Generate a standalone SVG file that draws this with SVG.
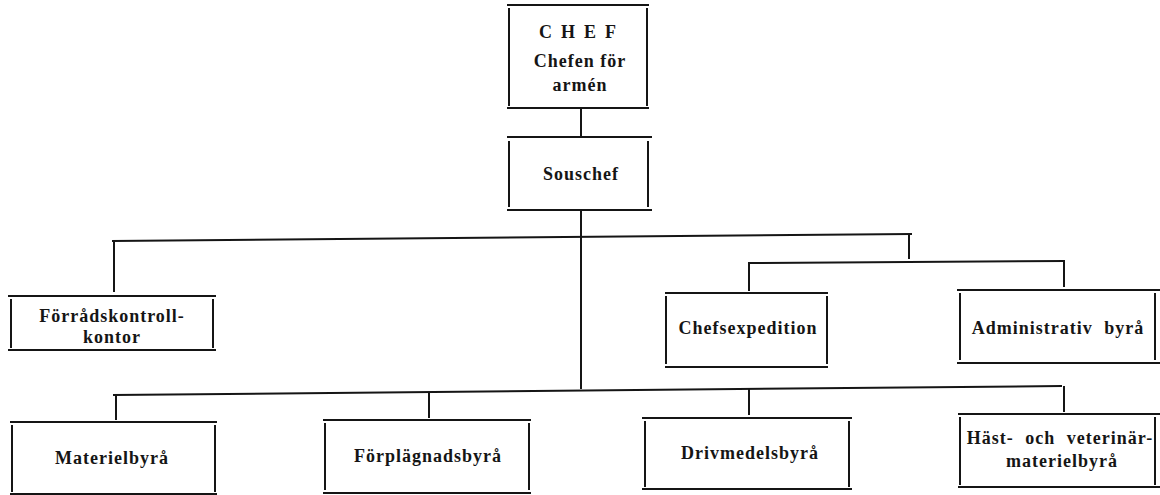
<svg xmlns="http://www.w3.org/2000/svg" width="1160" height="495" viewBox="0 0 1160 495">
<style>
line{stroke:#151515;stroke-width:2;stroke-linecap:butt}
text{font-family:"Liberation Serif","Times New Roman",serif;font-size:18px;fill:#151515;text-anchor:middle;font-weight:bold;letter-spacing:1px}
text.sp{letter-spacing:9px}
text.ws{word-spacing:6px}
</style>
<rect width="1160" height="495" fill="#fff"/>
<g id="connectors">
<line x1="581" y1="109" x2="581" y2="136"/>
<line x1="581" y1="211" x2="581" y2="389"/>
<line x1="112" y1="241" x2="912" y2="234"/>
<line x1="114" y1="241" x2="114" y2="292"/>
<line x1="909" y1="234" x2="909" y2="259"/>
<line x1="748" y1="263" x2="1065" y2="261"/>
<line x1="749" y1="263" x2="749" y2="291"/>
<line x1="1064" y1="261" x2="1064" y2="287"/>
<line x1="113" y1="395" x2="1062" y2="386"/>
<line x1="116" y1="395" x2="116" y2="420"/>
<line x1="429" y1="392" x2="429" y2="418"/>
<line x1="749" y1="389" x2="749" y2="415"/>
<line x1="1064" y1="386" x2="1064" y2="412"/>
</g>
<g id="chef">
<line x1="507" y1="5" x2="649" y2="5"/><line x1="507" y1="108" x2="649" y2="108"/>
<line x1="509" y1="8" x2="509" y2="106"/><line x1="647" y1="8" x2="647" y2="106"/>
<text class="sp" x="582" y="38">CHEF</text>
<text x="580" y="67">Chefen för</text>
<text x="580" y="91">armén</text>
</g>
<g id="souschef">
<line x1="507" y1="137" x2="652" y2="137"/><line x1="507" y1="210" x2="652" y2="210"/>
<line x1="509" y1="141" x2="509" y2="207"/><line x1="648" y1="141" x2="648" y2="207"/>
<text x="581" y="180">Souschef</text>
</g>
<g id="forradskontroll">
<line x1="8" y1="296" x2="216" y2="296"/><line x1="8" y1="350" x2="216" y2="350"/>
<line x1="11" y1="299" x2="11" y2="348"/><line x1="213" y1="299" x2="213" y2="348"/>
<text x="112" y="322">Förrådskontroll-</text>
<text x="112" y="343">kontor</text>
</g>
<g id="chefsexpedition">
<line x1="665" y1="293" x2="828" y2="293"/><line x1="665" y1="367" x2="828" y2="367"/>
<line x1="666" y1="296" x2="666" y2="364"/><line x1="827" y1="296" x2="827" y2="364"/>
<text x="748" y="334">Chefsexpedition</text>
</g>
<g id="administrativ">
<line x1="957" y1="290" x2="1160" y2="290"/><line x1="957" y1="363" x2="1160" y2="363"/>
<line x1="960" y1="293" x2="960" y2="360"/><line x1="1155" y1="293" x2="1155" y2="360"/>
<text class="ws" x="1058" y="334">Administrativ byrå</text>
</g>
<g id="materiel">
<line x1="10" y1="422" x2="217" y2="422"/><line x1="10" y1="494" x2="217" y2="494"/>
<line x1="12" y1="425" x2="12" y2="492"/><line x1="215" y1="425" x2="215" y2="492"/>
<text x="112" y="464">Materielbyrå</text>
</g>
<g id="forplagnad">
<line x1="323" y1="420" x2="531" y2="420"/><line x1="323" y1="493" x2="531" y2="493"/>
<line x1="325" y1="423" x2="325" y2="490"/><line x1="529" y1="423" x2="529" y2="490"/>
<text x="428" y="462">Förplägnadsbyrå</text>
</g>
<g id="drivmedel">
<line x1="642" y1="418" x2="852" y2="418"/><line x1="642" y1="489" x2="852" y2="489"/>
<line x1="645" y1="421" x2="645" y2="487"/><line x1="849" y1="421" x2="849" y2="487"/>
<text x="750" y="459">Drivmedelsbyrå</text>
</g>
<g id="hast">
<line x1="958" y1="414" x2="1160" y2="414"/><line x1="958" y1="487" x2="1160" y2="487"/>
<line x1="960" y1="417" x2="960" y2="485"/><line x1="1155" y1="417" x2="1155" y2="485"/>
<text class="ws" x="1060" y="444">Häst- och veterinär-</text>
<text x="1062" y="467">materielbyrå</text>
</g>
</svg>
